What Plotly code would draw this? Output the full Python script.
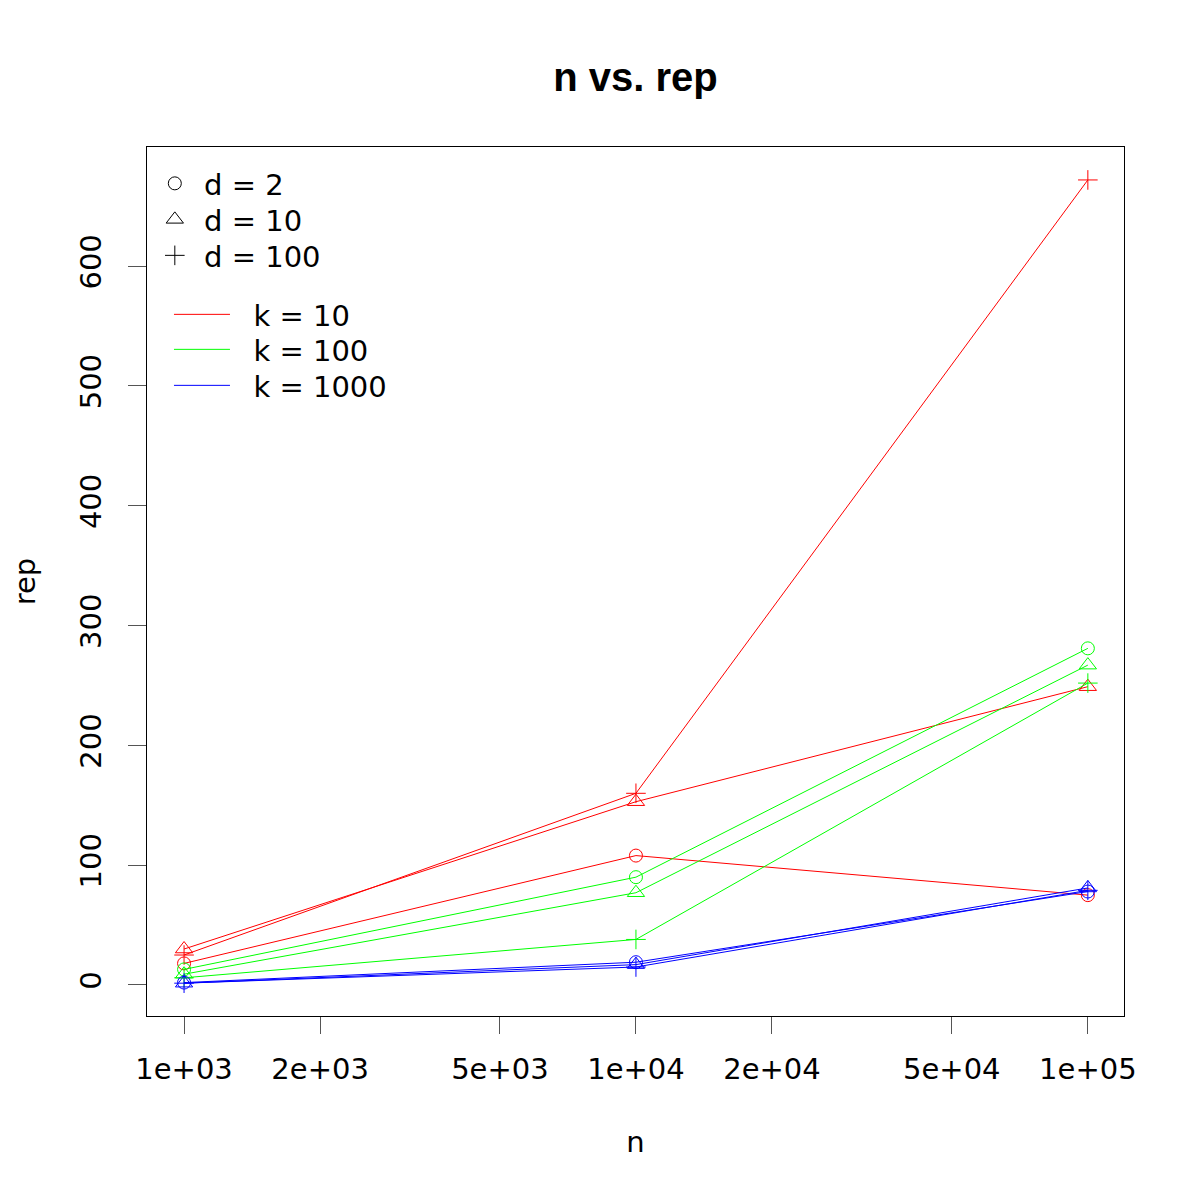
import plotly.graph_objects as go

# n values (log x axis)
n = [1e3, 1e4, 1e5]

# rep for each k (colour) and d (symbol)
rep_k10_d2 = [18, 108, 75]
rep_k10_d10 = [30, 153, 249]
rep_k10_d100 = [25, 160, 672]
rep_k100_d2 = [13, 90, 281]
rep_k100_d10 = [9, 77, 267]
rep_k100_d100 = [6, 38, 252]
rep_k1000_d2 = [2, 19, 78]
rep_k1000_d10 = [1.5, 17, 81]
rep_k1000_d100 = [1.5, 15, 79]

d_labels = ["d = 2", "d = 10", "d = 100"]
k_labels = ["k = 10", "k = 100", "k = 1000"]
x_tickvals = [1e3, 2e3, 5e3, 1e4, 2e4, 5e4, 1e5]
x_ticktext = ["1e+03", "2e+03", "5e+03", "1e+04", "2e+04", "5e+04", "1e+05"]
y_tickvals = [0, 100, 200, 300, 400, 500, 600]

colors = ["#FF0000", "#00FF00", "#0000FF"]
symbols = ["circle-open", "triangle-up-open", "cross-thin-open"]
sizes = [13, 15, 14]

series = [
    [rep_k10_d2, rep_k10_d10, rep_k10_d100],
    [rep_k100_d2, rep_k100_d10, rep_k100_d100],
    [rep_k1000_d2, rep_k1000_d10, rep_k1000_d100],
]

font = "DejaVu Sans"
nb = "\u00a0"

fig = go.Figure()

for ki, row in enumerate(series):
    for di, ys in enumerate(row):
        fig.add_trace(go.Scatter(
            x=n, y=ys, mode="lines+markers",
            line=dict(color=colors[ki], width=1),
            marker=dict(symbol=symbols[di], size=sizes[di],
                        color=colors[ki], line=dict(color=colors[ki], width=1)),
            showlegend=False, hoverinfo="skip"))

# one small legend per entry so the rows sit as tight as in the original
legend_ids = ["legend", "legend2", "legend3", "legend4", "legend5", "legend6"]
row_tops = [158, 194, 230, 289, 324, 360]  # pixel tops in the page

# legend entries: symbols (d)
for di in range(3):
    fig.add_trace(go.Scatter(
        x=[None], y=[None], mode="markers", name=nb + d_labels[di],
        marker=dict(symbol=symbols[di], size=sizes[di], color="black",
                    line=dict(color="black", width=1)),
        legend=legend_ids[di]))

# legend entries: colours (k)
for ki in range(3):
    fig.add_trace(go.Scatter(
        x=[None], y=[None], mode="lines", name=nb * 2 + k_labels[ki],
        line=dict(color=colors[ki], width=1),
        legend=legend_ids[3 + ki]))

plot_top, plot_h = 147, 869
legends = {}
for i, lid in enumerate(legend_ids):
    legends[lid] = dict(
        x=0.008 if i < 3 else 0.0225,
        y=1 - (row_tops[i] - plot_top) / plot_h,
        xanchor="left", yanchor="top",
        bgcolor="rgba(0,0,0,0)", font=dict(size=29),
        itemwidth=30 if i < 3 else 56)

fig.update_layout(
    width=1200, height=1200,
    paper_bgcolor="white", plot_bgcolor="white",
    margin=dict(l=139, r=84, t=139, b=192),
    font=dict(family=font, size=29, color="black"),
    title=dict(text="n vs. rep", x=0.5, xref="paper", y=1 - 69 / 1200,
               yanchor="middle", xanchor="center",
               font=dict(family="Liberation Sans", size=40, color="black",
                         weight="bold")),
    **legends,
)

fig.update_xaxes(
    type="log", range=[2.918, 5.08],
    tickvals=x_tickvals, ticktext=x_ticktext,
    ticks="outside", ticklen=17, tickcolor="#555555", tickwidth=1,
    ticklabelstandoff=10,
    showline=True, mirror=True, linecolor="black", linewidth=1,
    showgrid=False, zeroline=False,
    tickfont=dict(family=font, size=29),
    title=dict(text="n", font=dict(family=font, size=29), standoff=46),
)
fig.update_yaxes(
    range=[-25.9, 699.5],
    tickvals=y_tickvals, tickangle=-90,
    ticks="outside", ticklen=18, tickcolor="#555555", tickwidth=1,
    ticklabelstandoff=15,
    showline=True, mirror=True, linecolor="black", linewidth=1,
    showgrid=False, zeroline=False,
    tickfont=dict(family=font, size=29),
    title=dict(text="rep", font=dict(family=font, size=29), standoff=35),
)

fig.write_html("out.html")
